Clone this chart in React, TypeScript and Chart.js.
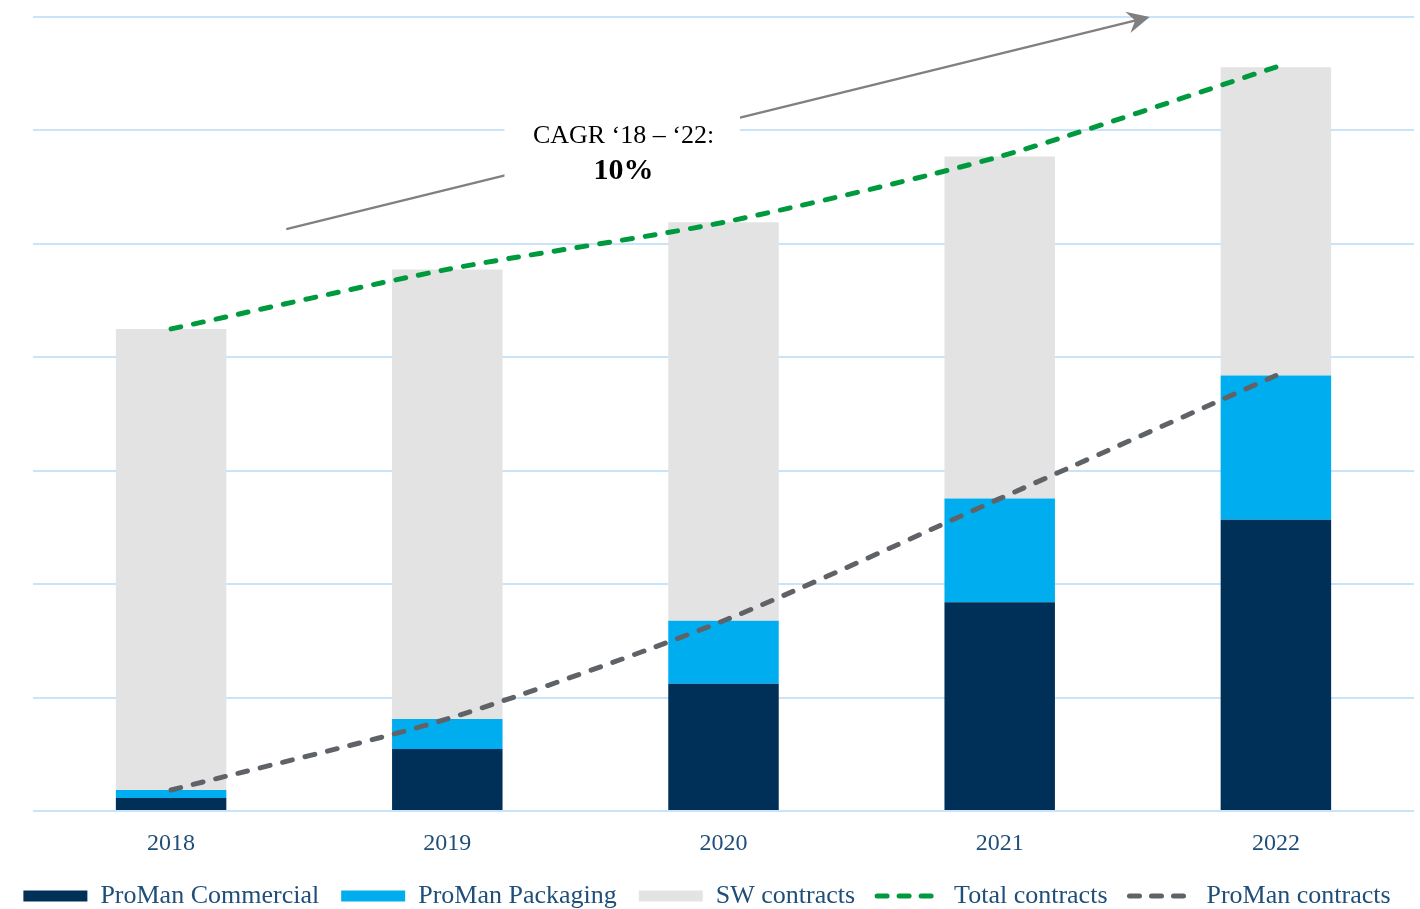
import React, { useEffect, useRef } from 'react';
import { Chart, registerables } from 'chart.js';

Chart.register(...registerables);

// ---- data ----
const years = ['2018', '2019', '2020', '2021', '2022'];
const promanCommercial = [0.115, 0.547, 1.121, 1.84, 2.568];
const promanPackaging = [0.07, 0.265, 0.556, 0.914, 1.271];
const swContracts = [4.065, 3.963, 3.513, 3.016, 2.719];
const totalContracts = [4.25, 4.775, 5.19, 5.77, 6.558];
const promanContracts = [0.185, 0.812, 1.677, 2.754, 3.839];
const yTicks = [0, 1, 2, 3, 4, 5, 6, 7];
const cagrLabel = 'CAGR ‘18 – ‘22:';
const cagrValue = '10%';

// ---- styles ----
const C_COMM = '#003057';
const C_PACK = '#00AEEF';
const C_SW = '#E3E3E3';
const C_TOTAL = '#009A3E';
const C_PROMAN = '#5F6368';
const C_TEXT = '#1F4E79';
const SERIF = '"Liberation Serif", "DejaVu Serif", serif';

const cagrPlugin = {
  id: 'cagrArrow',
  afterDatasetsDraw(chart: any) {
    const { ctx } = chart;
    const x = chart.scales.x;
    const y = chart.scales.y;
    const p0 = x.getPixelForValue(0);
    const step = x.getPixelForValue(1) - p0;
    const px = (i: number) => p0 + i * step;
    const x0 = px(0.417), y0 = y.getPixelForValue(5.13);
    const x1 = px(3.543), y1 = y.getPixelForValue(7.0);
    const ang = Math.atan2(y1 - y0, x1 - x0);
    ctx.save();
    ctx.strokeStyle = '#808080';
    ctx.fillStyle = '#808080';
    ctx.lineWidth = 2.5;
    ctx.beginPath();
    ctx.moveTo(x0, y0);
    ctx.lineTo(x1 - Math.cos(ang) * 8, y1 - Math.sin(ang) * 8);
    ctx.stroke();
    const L = 25;
    const spread = 0.45;
    ctx.beginPath();
    ctx.moveTo(x1, y1);
    ctx.lineTo(x1 - L * Math.cos(ang - spread), y1 - L * Math.sin(ang - spread));
    ctx.lineTo(x1 - 0.6 * L * Math.cos(ang), y1 - 0.6 * L * Math.sin(ang));
    ctx.lineTo(x1 - L * Math.cos(ang + spread), y1 - L * Math.sin(ang + spread));
    ctx.closePath();
    ctx.fill();
    // white label box
    const bx0 = px(1.207), bx1 = px(2.06);
    const by0 = y.getPixelForValue(6.13), by1 = y.getPixelForValue(5.47);
    ctx.fillStyle = '#ffffff';
    ctx.fillRect(bx0, by0, bx1 - bx0, by1 - by0);
    ctx.fillStyle = '#000000';
    ctx.textAlign = 'center';
    ctx.textBaseline = 'middle';
    ctx.font = `26px ${SERIF}`;
    ctx.fillText(cagrLabel, px(1.638), y.getPixelForValue(5.95));
    ctx.font = `bold 30px ${SERIF}`;
    ctx.fillText(cagrValue, px(1.638), y.getPixelForValue(5.64));
    ctx.restore();
  },
};

export default function App() {
  const ref = useRef<HTMLCanvasElement>(null);
  useEffect(() => {
    const barCommon = { stack: 'bars', barPercentage: 0.4, categoryPercentage: 1, borderWidth: 0, order: 2 };
    const lineCommon = {
      borderWidth: 5,
      borderDash: [10, 13],
      borderCapStyle: 'round',
      pointRadius: 0,
      pointHoverRadius: 0,
      tension: 0.25,
      fill: false,
      order: 1,
    };
    const chart = new Chart(ref.current as HTMLCanvasElement, {
      type: 'bar',
      data: {
        labels: years,
        datasets: [
          { ...barCommon, type: 'bar', label: 'ProMan Commercial', data: promanCommercial, backgroundColor: C_COMM },
          { ...barCommon, type: 'bar', label: 'ProMan Packaging', data: promanPackaging, backgroundColor: C_PACK },
          { ...barCommon, type: 'bar', label: 'SW contracts', data: swContracts, backgroundColor: C_SW },
          { ...lineCommon, type: 'line', label: 'Total contracts', data: totalContracts, borderColor: C_TOTAL, stack: 'total' },
          { ...lineCommon, type: 'line', label: 'ProMan contracts', data: promanContracts, borderColor: C_PROMAN, stack: 'proman' },
        ] as any,
      },
      options: {
        responsive: false,
        animation: false,
        devicePixelRatio: 1,
        layout: { padding: { left: 0, right: 6, top: 17, bottom: -10 } },
        plugins: {
          tooltip: { enabled: false },
          legend: {
            position: 'bottom',
            labels: {
              usePointStyle: true,
              pointStyleWidth: 64,
              boxHeight: 11,
              padding: 22,
              color: C_TEXT,
              font: { family: SERIF, size: 26 },
              generateLabels: () => [
                { text: 'ProMan Commercial', fillStyle: C_COMM, strokeStyle: C_COMM, lineWidth: 0, pointStyle: 'rect', datasetIndex: 0, hidden: false, fontColor: C_TEXT },
                { text: 'ProMan Packaging', fillStyle: C_PACK, strokeStyle: C_PACK, lineWidth: 0, pointStyle: 'rect', datasetIndex: 1, hidden: false, fontColor: C_TEXT },
                { text: 'SW contracts', fillStyle: C_SW, strokeStyle: C_SW, lineWidth: 0, pointStyle: 'rect', datasetIndex: 2, hidden: false, fontColor: C_TEXT },
                { text: 'Total contracts', fillStyle: 'rgba(0,0,0,0)', strokeStyle: C_TOTAL, lineWidth: 5, lineDash: [10, 12], lineCap: 'round', pointStyle: 'line', datasetIndex: 3, hidden: false, fontColor: C_TEXT },
                { text: 'ProMan contracts', fillStyle: 'rgba(0,0,0,0)', strokeStyle: C_PROMAN, lineWidth: 5, lineDash: [10, 12], lineCap: 'round', pointStyle: 'line', datasetIndex: 4, hidden: false, fontColor: C_TEXT },
              ],
            },
          },
        },
        scales: {
          x: {
            grid: { display: false, drawTicks: false },
            border: { display: false },
            ticks: { color: C_TEXT, font: { family: SERIF, size: 24, lineHeight: 1.2 }, padding: 18 },
            afterFit: (axis: any) => {
              axis.height = 50;
            },
          },
          y: {
            stacked: true,
            min: yTicks[0],
            max: yTicks[yTicks.length - 1],
            afterBuildTicks: (axis: any) => {
              axis.ticks = yTicks.map((v) => ({ value: v }));
            },
            afterFit: (axis: any) => {
              axis.width = 33;
            },
            ticks: { display: false },
            grid: { color: '#C9E3F8', lineWidth: 2, drawTicks: false },
            border: { display: false },
          },
        },
      } as any,
      plugins: [cagrPlugin],
    });
    return () => chart.destroy();
  }, []);
  return (
    <div style={{ position: 'fixed', left: 0, top: 0, width: 1420, height: 909, background: '#ffffff' }}>
      <canvas ref={ref} width={1420} height={909} style={{ display: 'block' }} />
    </div>
  );
}
